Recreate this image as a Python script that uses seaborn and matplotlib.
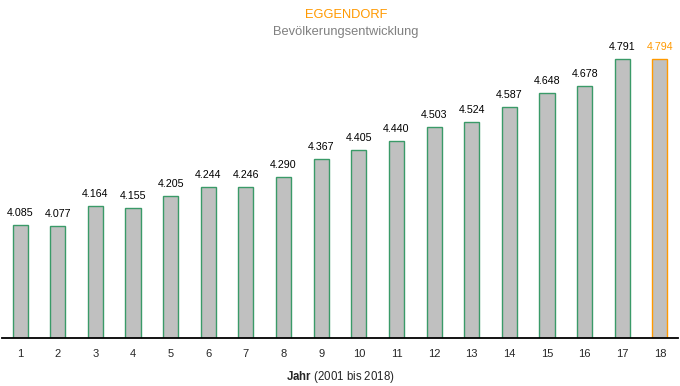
import numpy as np
import pandas as pd
import seaborn as sns
import matplotlib.pyplot as plt

# Daten
jahre = [str(i) for i in range(1, 19)]
einwohner = [4085, 4077, 4164, 4155, 4205, 4244, 4246, 4290, 4367,
             4405, 4440, 4503, 4524, 4587, 4648, 4678, 4791, 4794]

sns.set_theme(style="white")
plt.rcParams['font.family'] = ['Liberation Sans', 'DejaVu Sans']
plt.rcParams['mathtext.fontset'] = 'custom'
plt.rcParams['mathtext.bf'] = 'Liberation Sans:bold'
plt.rcParams['mathtext.rm'] = 'Liberation Sans'

df = pd.DataFrame({"Jahr": jahre, "Einwohner": einwohner})

gruen = "#3a9a68"
orange = "#ff9900"

fig = plt.figure(figsize=(6.8, 3.86), dpi=100)
ax = fig.add_axes([0.003, 0.1244, 0.994, 0.788])

sns.barplot(data=df, x="Jahr", y="Einwohner", color="#c0c0c0", width=0.4,
            saturation=1, ax=ax)

for i, p in enumerate(ax.patches):
    p.set_edgecolor(orange if i == len(ax.patches) - 1 else gruen)
    p.set_linewidth(1.0)

# Werte über den Balken
for i, v in enumerate(einwohner):
    farbe = orange if i == len(einwohner) - 1 else "black"
    ax.annotate(f"{v:,}".replace(",", "."), (i, v), xytext=(0, 5),
                textcoords="offset points", ha="center", va="bottom",
                fontsize=7.7, color=farbe)

ax.set_ylim(3600, 4900)
ax.set_xlim(-0.48, 17.48)
ax.set_yticks([])
ax.set_ylabel("")
ax.set_xlabel(r"$\bf{Jahr}$ (2001 bis 2018)", fontsize=8.3, labelpad=7)
ax.tick_params(axis="x", length=0, labelsize=8, pad=8)
sns.despine(ax=ax, left=True)
ax.spines["bottom"].set_color("black")
ax.spines["bottom"].set_linewidth(1.3)

fig.text(0.509, 0.962, "EGGENDORF", ha="center", va="center", fontsize=9.3, color=orange)
fig.text(0.509, 0.918, "Bevölkerungsentwicklung", ha="center", va="center",
         fontsize=9.3, color="#808080")

plt.savefig("out.png", dpi=100)
